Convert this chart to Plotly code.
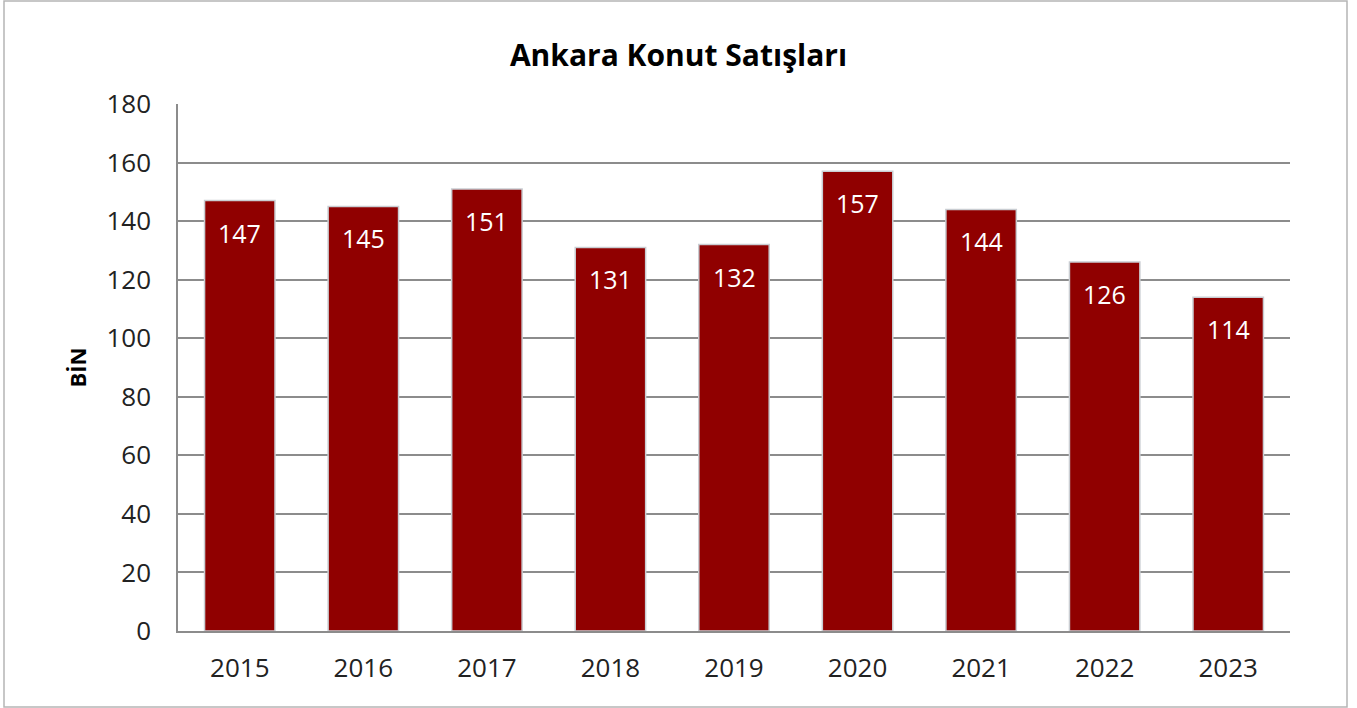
import plotly.graph_objects as go

years = ["2015", "2016", "2017", "2018", "2019", "2020", "2021", "2022", "2023"]
sales_thousand = [147, 145, 151, 131, 132, 157, 144, 126, 114]
y_ticks = [0, 20, 40, 60, 80, 100, 120, 140, 160, 180]

FONT = "Open Sans"
BAR = "#900000"

fig = go.Figure()
fig.add_trace(go.Bar(
    x=years, y=sales_thousand,
    marker=dict(color=BAR, line=dict(color="#c9cdd2", width=1.5)),
    width=0.57,
    hoverinfo="x+y",
))

# value labels near the top inside each bar (category index positions)
for i, v in enumerate(sales_thousand):
    fig.add_annotation(x=i, y=v, xref="x", yref="y", text=str(v), showarrow=False,
                       yanchor="top", yshift=-13,
                       font=dict(family=FONT, size=25, color="white"))

fig.update_layout(
    width=1357, height=708,
    margin=dict(l=178, r=67, t=104, b=77),
    paper_bgcolor="white", plot_bgcolor="white",
    showlegend=False,
    title=dict(text="<b>Ankara Konut Satışları</b>", x=0.5, xanchor="center",
               y=1 - 55 / 708, yanchor="middle",
               font=dict(family=FONT, size=30, color="black")),
    xaxis=dict(
        type="category",
        showgrid=False, showline=True, linecolor="#8c8c8c", linewidth=1.5,
        tickfont=dict(family=FONT, size=26, color="#222"),
        ticklabelstandoff=13, ticks="",
    ),
    yaxis=dict(
        range=[0, 180], tickvals=y_ticks,
        showgrid=True, gridcolor="#8c8c8c", gridwidth=1.5,
        showline=True, linecolor="#8c8c8c", linewidth=1.5,
        zeroline=False,
        tickfont=dict(family=FONT, size=26, color="#222"),
        ticklabelstandoff=20, ticks="",
        title=dict(text="<b>BİN</b>", font=dict(family=FONT, size=22, color="black"),
                   standoff=14),
    ),
    bargap=0.43,
)

# outer frame of the chart
fig.add_shape(type="rect", xref="paper", yref="paper",
              x0=(4 - 178) / 1112, x1=(1347 - 178) / 1112,
              y0=(631 - 707) / 527, y1=(631 - 1) / 527,
              line=dict(color="#b5b5b5", width=1.5), layer="below")

fig.write_html("out.html", post_script="document.body.style.margin='0';",
               config={"displayModeBar": False})
